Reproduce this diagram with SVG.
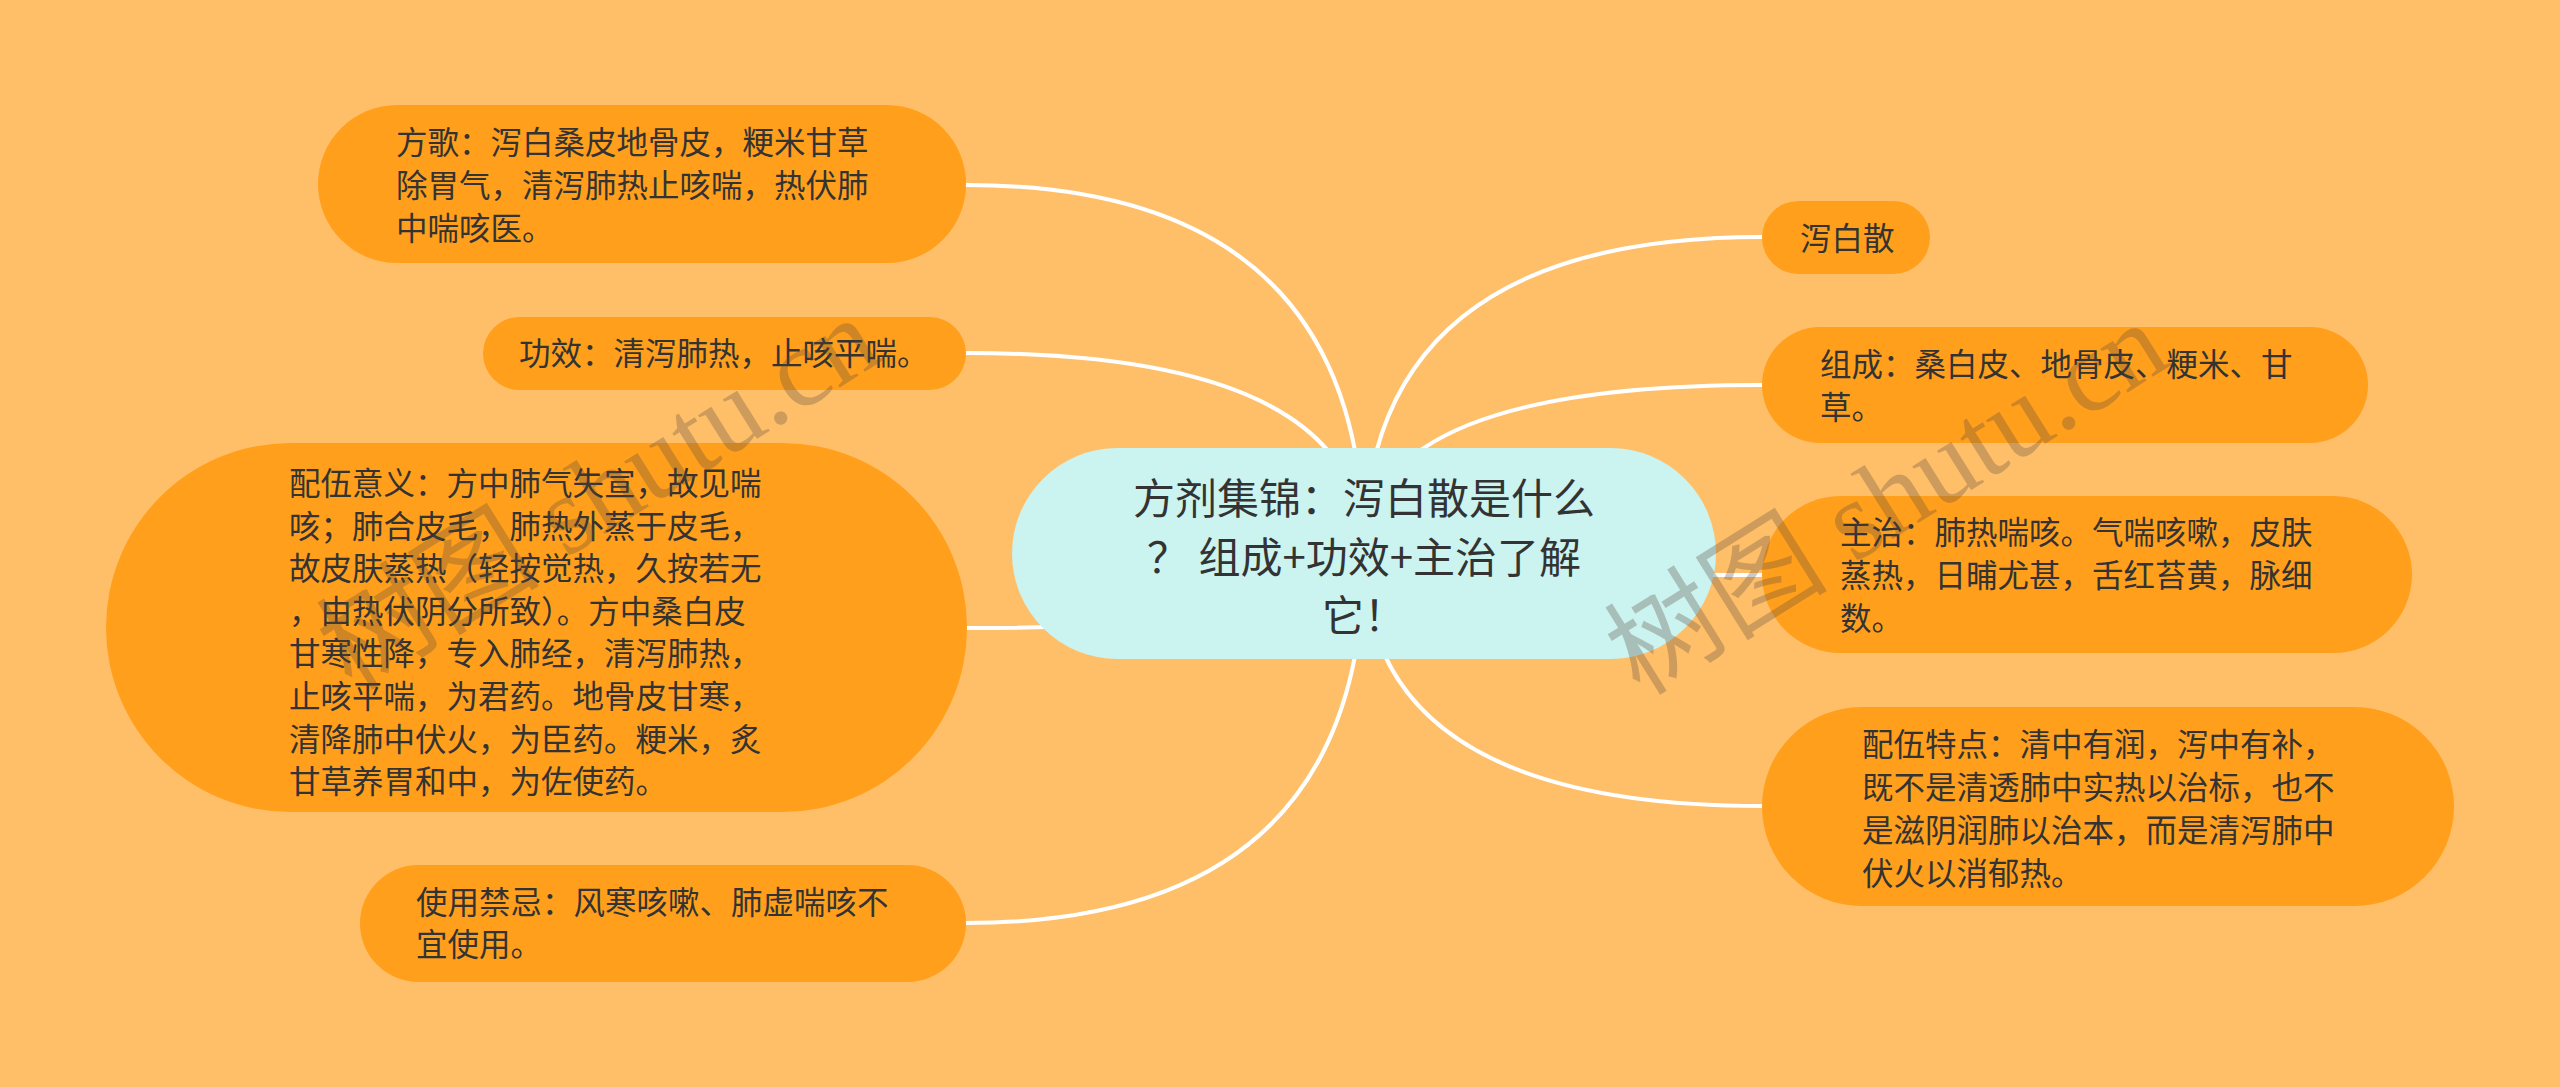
<svg xmlns="http://www.w3.org/2000/svg" width="2560" height="1087" viewBox="0 0 2560 1087">
<style>
.bg{fill:#FFBF69}
.leaf{fill:#FF9F1C}
.root{fill:#CBF3F0}
.lt{font-family:"Noto Sans CJK SC","Noto Sans",sans-serif;font-size:31.5px;fill:#333333}
.rt{font-family:"Noto Sans CJK SC","Noto Sans",sans-serif;font-size:42px;fill:#333333;text-anchor:middle}
.conn path{fill:none;stroke:#FFFFFF;stroke-width:4;stroke-linecap:round}
.wm{font-family:"Liberation Serif","Noto Sans CJK SC",serif;font-size:112px;fill:#5a4a3a;fill-opacity:0.3}
</style>
<rect class="bg" x="0" y="0" width="2560" height="1087"/>
<g id="connectors" class="conn">
<path d="M1364 553 Q1364 185 966 185"/>
<path d="M1364 553 Q1364 353 966 353"/>
<path d="M1364 553 Q1364 628 967 628"/>
<path d="M1364 553 Q1364 923 966 923"/>
<path d="M1364 553 Q1364 237 1762 237"/>
<path d="M1364 553 Q1364 385 1762 385"/>
<path d="M1364 553 Q1364 575 1762 575"/>
<path d="M1364 553 Q1364 806 1762 806"/>
</g>
<g id="root">
<rect class="root" x="1012" y="448" width="704" height="211" rx="105.5"/>
<text class="rt"><tspan x="1364" y="514">方剂集锦：泻白散是什么</tspan><tspan x="1364" y="573">？ 组成+功效+主治了解</tspan><tspan x="1364" y="631">它！</tspan></text>
</g>
<g id="n-fangge">
<rect class="leaf" x="318" y="105" width="648" height="158" rx="79"/>
<text class="lt"><tspan x="396" y="154">方歌：泻白桑皮地骨皮，粳米甘草</tspan><tspan x="396" y="197">除胃气，清泻肺热止咳喘，热伏肺</tspan><tspan x="396" y="240">中喘咳医。</tspan></text>
</g>
<g id="n-gongxiao">
<rect class="leaf" x="483" y="317" width="483" height="73" rx="36.5"/>
<text class="lt"><tspan x="519" y="364.5">功效：清泻肺热，止咳平喘。</tspan></text>
</g>
<g id="n-peiwuyiyi">
<rect class="leaf" x="106" y="443" width="861" height="369" rx="184.5"/>
<text class="lt"><tspan x="289" y="495">配伍意义：方中肺气失宣，故见喘</tspan><tspan x="289" y="537.6">咳；肺合皮毛，肺热外蒸于皮毛，</tspan><tspan x="289" y="580.2">故皮肤蒸热（轻按觉热，久按若无</tspan><tspan x="289" y="622.8">，由热伏阴分所致）。方中桑白皮</tspan><tspan x="289" y="665.4">甘寒性降，专入肺经，清泻肺热，</tspan><tspan x="289" y="708">止咳平喘，为君药。地骨皮甘寒，</tspan><tspan x="289" y="750.6">清降肺中伏火，为臣药。粳米，炙</tspan><tspan x="289" y="793.2">甘草养胃和中，为佐使药。</tspan></text>
</g>
<g id="n-jinji">
<rect class="leaf" x="360" y="865" width="606" height="117" rx="58.5"/>
<text class="lt"><tspan x="416" y="914">使用禁忌：风寒咳嗽、肺虚喘咳不</tspan><tspan x="416" y="956">宜使用。</tspan></text>
</g>
<g id="n-xiebaisan">
<rect class="leaf" x="1762" y="201" width="168" height="73" rx="36.5"/>
<text class="lt"><tspan x="1800" y="249.5">泻白散</tspan></text>
</g>
<g id="n-zucheng">
<rect class="leaf" x="1762" y="327" width="606" height="116" rx="58"/>
<text class="lt"><tspan x="1820" y="376">组成：桑白皮、地骨皮、粳米、甘</tspan><tspan x="1820" y="419">草。</tspan></text>
</g>
<g id="n-zhuzhi">
<rect class="leaf" x="1762" y="496" width="650" height="157" rx="78.5"/>
<text class="lt"><tspan x="1840" y="544">主治：肺热喘咳。气喘咳嗽，皮肤</tspan><tspan x="1840" y="587">蒸热，日晡尤甚，舌红苔黄，脉细</tspan><tspan x="1840" y="630">数。</tspan></text>
</g>
<g id="n-peiwutedian">
<rect class="leaf" x="1762" y="707" width="692" height="199" rx="99.5"/>
<text class="lt"><tspan x="1862" y="756">配伍特点：清中有润，泻中有补，</tspan><tspan x="1862" y="799">既不是清透肺中实热以治标，也不</tspan><tspan x="1862" y="842">是滋阴润肺以治本，而是清泻肺中</tspan><tspan x="1862" y="885">伏火以消郁热。</tspan></text>
</g>
<g id="watermarks">
<text class="wm" transform="translate(352,692) rotate(-32)">树图 shutu.cn</text>
<text class="wm" transform="translate(1640,697) rotate(-32)">树图 shutu.cn</text>
</g>
</svg>
